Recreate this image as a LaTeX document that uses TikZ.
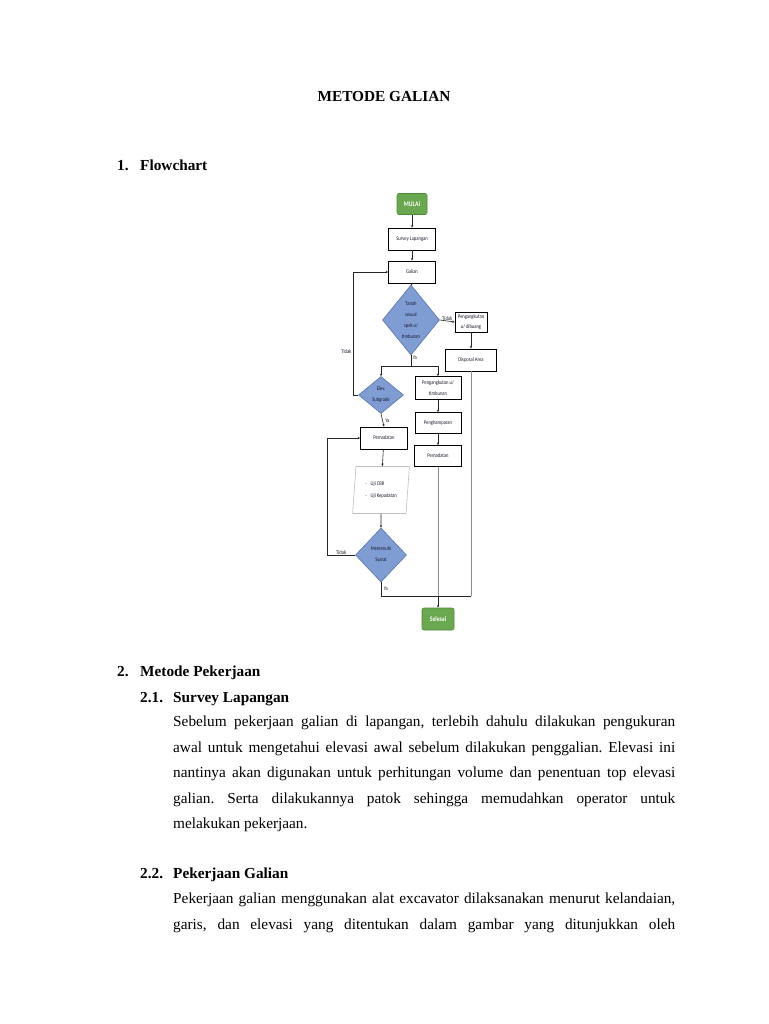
\documentclass[tikz,border=0pt]{standalone}
\usepackage{fontspec}
\setmainfont{Liberation Serif}
\newfontfamily\fcf[FakeStretch=0.82]{Carlito}
\usetikzlibrary{shapes.geometric,arrows.meta}
\definecolor{decfill}{HTML}{7F9DD3}
\definecolor{decdraw}{HTML}{5676B0}
\definecolor{gofill}{HTML}{6AA84F}
\definecolor{godraw}{HTML}{4E8A35}
\definecolor{fctext}{HTML}{1A1A2E}
\frenchspacing
\begin{document}
\begin{tikzpicture}[x=1pt,y=-1pt,
  body/.style={anchor=base west,inner sep=0pt,font=\fontsize{15.3}{18}\selectfont},
  head/.style={anchor=base west,inner sep=0pt,font=\fontsize{15.3}{18}\selectfont\bfseries},
  fc/.style={font=\fcf\fontsize{5.6}{11}\selectfont,align=center,inner sep=0.5pt,text=fctext},
  box/.style={fc,draw=black,line width=0.7pt,fill=white,rectangle},
  dec/.style={fc,diamond,draw=decdraw,fill=decfill,line width=0.6pt},
  term/.style={rectangle,rounded corners=2pt,draw=godraw,fill=gofill,line width=0.6pt,text=white,font=\fcf\fontsize{7}{8}\selectfont\bfseries,inner sep=0.5pt},
  io/.style={fc,trapezium,trapezium left angle=83,trapezium right angle=97,trapezium stretches=true,draw=black!25,line width=0.6pt,align=left},
  arr/.style={-{Stealth[length=2.6pt,width=2.2pt]},line width=0.6pt,draw=black!85},
  ln/.style={line width=0.6pt,draw=black!85},
  gln/.style={line width=0.6pt,draw=black!45},
  lab/.style={font=\fcf\fontsize{5.6}{6}\selectfont,inner sep=0.5pt,text=fctext}
]
\useasboundingbox[fill=white] (0,0) rectangle (768,1024);

% title and headings
\node[anchor=base,inner sep=0pt,font=\fontsize{15.3}{18}\selectfont\bfseries] (title) at (384,102) {METODE GALIAN};
\node[head] (h1n) at (117,171) {1.};
\node[head] (h1) at (140,171) {Flowchart};

% flowchart
\node[term,minimum width=30pt,minimum height=21pt] (mulai) at (412,204) {MULAI};
\node[box,minimum width=47pt,minimum height=22pt] (survey) at (412,239) {Survey Lapangan};
\node[box,minimum width=47pt,minimum height=22pt] (galian) at (412,272) {Galian};
\node[dec,minimum width=46pt,minimum height=70pt] (tanah) at (411,320) {Tanah\\sesuai\\spek u/\\timbunan};
\node[box,minimum width=32pt,minimum height=20pt,font=\fcf\fontsize{5.6}{10}\selectfont] (buang) at (471,322) {Pengangkutan\\u/ dibuang};
\node[box,minimum width=51pt,minimum height=22pt] (disposal) at (471,360) {Disposal Area};
\node[dec,minimum width=45pt,minimum height=37pt] (elev) at (381,395) {Elev.\\Subgrade};
\node[box,minimum width=46pt,minimum height=23pt] (timbun) at (438,388) {Pengangkutan u/\\timbunan};
\node[box,minimum width=46pt,minimum height=21pt] (hampar) at (438,423) {Penghamparan};
\node[box,minimum width=47pt,minimum height=21pt] (padatR) at (438,456) {Pemadatan};
\node[box,minimum width=47pt,minimum height=22pt] (padatL) at (384,438) {Pemadatan};
\node[io,minimum width=57pt,minimum height=47pt,font=\fcf\fontsize{5.6}{12}\selectfont] (uji) at (381,490) {-\hspace{4pt}Uji CBR\\-\hspace{4pt}Uji Kepadatan};
\node[dec,minimum width=51pt,minimum height=54pt] (syarat) at (381,555) {Memenuhi\\Syarat};
\node[term,minimum width=32pt,minimum height=22pt] (selesai) at (438,619) {Selesai};

\coordinate (j1) at (411,366);
\coordinate (j2) at (381,596);
\coordinate (loopA) at (353,395);
\coordinate (loopB) at (327,555);

\draw[arr] (mulai) -- (survey);
\draw[arr] (survey) -- (galian);
\draw[arr] (galian) -- (tanah);
\draw[arr] (tanah.east) -- (buang.west) node[lab,midway,above] {Tidak};
\draw[arr] (buang) -- (disposal);
\draw[ln] (tanah.south) -- (j1) node[lab,pos=0.2,right=1pt] {Ya};
\draw[arr] (j1) -| (elev.north);
\draw[arr] (j1) -| (timbun.north);
\draw[ln] (elev.west) -- (loopA);
\draw[arr] (loopA) |- (galian.west);
\node[lab,anchor=east] (tidak1) at (352,352) {Tidak};
\draw[arr] (elev.south) -- (padatL.north) node[lab,midway,right=2pt] {Ya};
\draw[arr] (timbun) -- (hampar);
\draw[arr] (hampar) -- (padatR);
\draw[arr] (padatL) -- (uji);
\draw[arr] (uji) -- (syarat);
\draw[ln] (syarat.west) -- (loopB) node[lab,midway,above] {Tidak};
\draw[arr] (loopB) |- (padatL.west);
\draw[ln] (syarat.south) -- (j2) node[lab,pos=0.5,right=2pt] {Ya};
\draw[ln] (j2) -- (j2 -| disposal.south);
\draw[gln] (disposal.south) -- (j2 -| disposal.south);
\draw[gln] (padatR.south) -- (j2 -| padatR.south);
\draw[arr] (j2 -| selesai.north) -- (selesai.north);

% section 2
\node[head] (h2n) at (117,676) {2.};
\node[head] (h2) at (140,676) {Metode Pekerjaan};
\node[head] (h21n) at (140,702) {2.1.};
\node[head] (h21) at (173,702) {Survey Lapangan};
\node[body] (p1a) at (173,726) {\makebox[502pt][s]{Sebelum pekerjaan galian di lapangan, terlebih dahulu dilakukan pengukuran}};
\node[body] (p1b) at (173,752) {\makebox[502pt][s]{awal untuk mengetahui elevasi awal sebelum dilakukan penggalian. Elevasi ini}};
\node[body] (p1c) at (173,777) {\makebox[502pt][s]{nantinya akan digunakan untuk perhitungan volume dan penentuan top elevasi}};
\node[body] (p1d) at (173,803) {\makebox[502pt][s]{galian. Serta dilakukannya patok sehingga memudahkan operator untuk}};
\node[body] (p1e) at (173,828) {melakukan pekerjaan.};
\node[head] (h22n) at (140,878) {2.2.};
\node[head] (h22) at (173,878) {Pekerjaan Galian};
\node[body] (p2a) at (173,903) {\makebox[502pt][s]{Pekerjaan galian menggunakan alat excavator dilaksanakan menurut kelandaian,}};
\node[body] (p2b) at (173,929) {\makebox[502pt][s]{garis, dan elevasi yang ditentukan dalam gambar yang ditunjukkan oleh}};
\end{tikzpicture}
\end{document}
